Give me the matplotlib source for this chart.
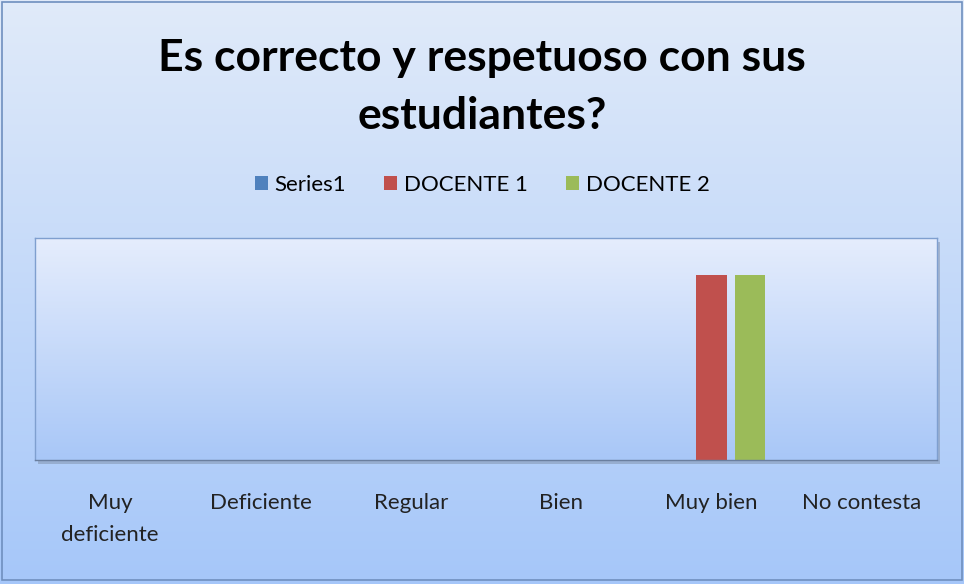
import numpy as np
import matplotlib
matplotlib.use("Agg")
import matplotlib.pyplot as plt
from matplotlib.patches import Rectangle

# chart data
categories = ["Muy\ndeficiente", "Deficiente", "Regular", "Bien", "Muy bien", "No contesta"]
series1 = [0, 0, 0, 0, 0, 0]
docente1 = [0, 0, 0, 0, 1, 0]
docente2 = [0, 0, 0, 0, 1, 0]
series_names = ["Series1", "DOCENTE 1", "DOCENTE 2"]
colors = ["#4f81bd", "#c0504d", "#9bbb59"]

plt.rcParams["font.family"] = ["Lato", "DejaVu Sans"]

W, H = 964, 584
fig = plt.figure(figsize=(W / 100, H / 100), dpi=100)

# figure background: vertical gradient, pale at top, blue at bottom
bg = fig.add_axes([0, 0, 1, 1], zorder=0)
grad = np.linspace(0, 1, 256).reshape(-1, 1)
top = np.array([0.88, 0.92, 0.98])
bot = np.array([0.65, 0.78, 0.98])
img = top + (bot - top) * grad[..., None] * np.ones((1, 2, 1))
bg.imshow(img, aspect="auto", extent=[0, 1, 0, 1], origin="upper")
bg.add_patch(Rectangle((0.002, 0.006), 0.996, 0.99, fill=False, ec="#6f8fbf", lw=1.2,
                       transform=bg.transAxes))
bg.set_xlim(0, 1); bg.set_ylim(0, 1)
bg.axis("off")

# plot area in pixel coords of the reference
x0, x1, y0, y1 = 35, 937, 238, 460
ax = fig.add_axes([x0 / W, 1 - y1 / H, (x1 - x0) / W, (y1 - y0) / H], zorder=2)
ymax = 1.2
ptop = np.array([0.90, 0.93, 0.99])
pbot = np.array([0.66, 0.78, 0.97])
pimg = ptop + (pbot - ptop) * grad[..., None] * np.ones((1, 2, 1))
ax.imshow(pimg, aspect="auto", extent=[-0.5, 5.5, 0, ymax], origin="upper", zorder=0)

# shadow under the plot area
fig.patches.append(Rectangle(((x0 + 3) / W, 1 - (y1 + 4) / H), (x1 - x0) / W, (y1 - y0) / H,
                             transform=fig.transFigure, fc="#7f8fa8", alpha=0.5, zorder=1))

x = np.arange(len(categories))
bw, step = 0.2, 0.253
for i, (vals, name, c) in enumerate(zip([series1, docente1, docente2], series_names, colors)):
    ax.bar(x + (i - 1) * step, vals, width=bw, color=c, label=name, zorder=2)

ax.set_xlim(-0.5, 5.5)
ax.set_ylim(0, ymax)
ax.set_yticks([])
ax.set_xticks(x)
ax.set_xticklabels(categories, fontsize=16, color="#222222", linespacing=1.75)
ax.tick_params(axis="x", length=0, pad=24)
for s in ax.spines.values():
    s.set_color("#7f9fcf")
    s.set_linewidth(1.0)
ax.spines["bottom"].set_color("#6a7f9f")

fig.text(0.5, 1 - 58 / H, "Es correcto y respetuoso con sus", ha="center", va="center",
         fontsize=32, fontweight="bold", color="black")
fig.text(0.5, 1 - 116 / H, "estudiantes?", ha="center", va="center",
         fontsize=32, fontweight="bold", color="black")

leg = fig.legend(*ax.get_legend_handles_labels(), loc="center", bbox_to_anchor=(0.5, 1 - 185 / H),
                 ncol=3, frameon=False, fontsize=16, handlelength=0.6, handleheight=0.6,
                 handletextpad=0.3, columnspacing=1.7)

fig.savefig("out.png", dpi=100)
